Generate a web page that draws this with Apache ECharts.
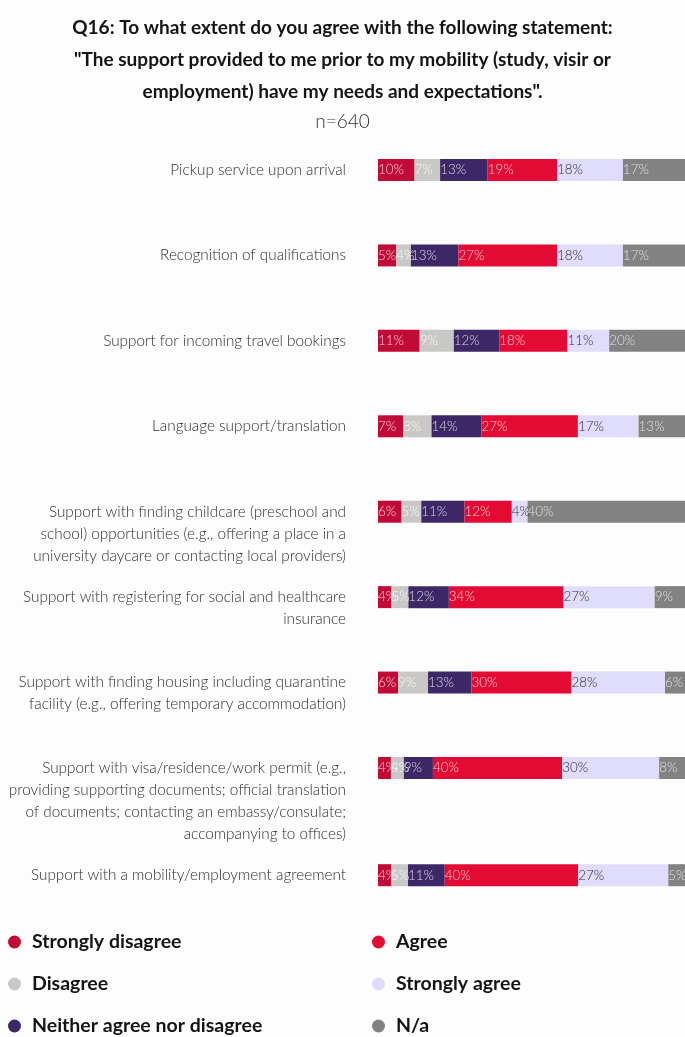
<!DOCTYPE html>
<html>
<head>
<meta charset="utf-8">
<script src="https://cdn.jsdelivr.net/npm/echarts@6/dist/echarts.min.js"></script>
<style>
  html, body { margin: 0; padding: 0; background: #fdfdfd; }
  #chart { width: 685px; height: 1037px; }
</style>
</head>
<body>
<div id="chart"></div>
<script>
// Survey items (line breaks as wrapped in the label column)
const categories = [
  'Pickup service upon arrival',
  'Recognition of qualifications',
  'Support for incoming travel bookings',
  'Language support/translation',
  'Support with finding childcare (preschool and\nschool) opportunities (e.g., offering a place in a\nuniversity daycare or contacting local providers)',
  'Support with registering for social and healthcare\ninsurance',
  'Support with finding housing including quarantine\nfacility (e.g., offering temporary accommodation)',
  'Support with visa/residence/work permit (e.g.,\nproviding supporting documents; official translation\nof documents; contacting an embassy/consulate;\naccompanying to offices)',
  'Support with a mobility/employment agreement'
];

// Percent of respondents per answer, one value per item above
const stronglyDisagree = [10, 5, 11, 7, 6, 4, 6, 4, 4];
const disagree         = [7, 4, 9, 8, 5, 5, 9, 4, 5];
const neither          = [13, 13, 12, 14, 11, 12, 13, 9, 11];
const agree            = [19, 27, 18, 27, 12, 34, 30, 40, 40];
const stronglyAgree    = [18, 18, 11, 17, 4, 27, 28, 30, 27];
const notApplicable    = [17, 17, 20, 13, 40, 9, 6, 8, 5];

const seriesNames = ['Strongly disagree', 'Disagree', 'Neither agree nor disagree', 'Agree', 'Strongly agree', 'N/a'];
const seriesValues = [stronglyDisagree, disagree, neither, agree, stronglyAgree, notApplicable];
const seriesColors = ['#c10a36', '#c9c8c6', '#3c2767', '#e30b34', '#e0dcfb', '#828282'];
const labelColors  = ['rgba(255,255,255,0.82)', 'rgba(255,255,255,0.9)', 'rgba(255,255,255,0.8)',
                      'rgba(255,255,255,0.8)', '#2c2a3a', 'rgba(255,255,255,0.75)'];

const titleLines = [
  'Q16: To what extent do you agree with the following statement:',
  '"The support provided to me prior to my mobility (study, visir or',
  'employment) have my needs and expectations".'
];
const subtitle = 'n=640';

// ---- pick the narrowest installed sans face and size text to the layout ----
const measureCtx = document.createElement('canvas').getContext('2d');
function textWidth(font, text) {
  measureCtx.font = font;
  return measureCtx.measureText(text).width;
}
function isInstalled(name) {
  const sample = 'abcdefghijklmnopqrstuvwxyz ABCDEFGHIJ 0123456789';
  return ['monospace', 'serif'].every(fb =>
    Math.abs(textWidth(`40px '${name}', ${fb}`, sample) - textWidth(`40px ${fb}`, sample)) > 0.5);
}
const fontCandidates = ['Liberation Sans Narrow', 'DejaVu Sans Condensed', 'Roboto', 'Lato',
                        'Liberation Sans', 'Open Sans', 'Noto Sans', 'Inter', 'DejaVu Sans'];
const probe = 'Pickup service upon arrival';
let FONT_NAME = 'sans-serif';
let best = Infinity;
fontCandidates.forEach(name => {
  if (!isInstalled(name)) return;
  const w = textWidth(`17px '${name}'`, probe);
  if (w < best) { best = w; FONT_NAME = name; }
});
const FONT = `'${FONT_NAME}', sans-serif`;

function fitSize(maxSize, weight, text, target) {
  const w = textWidth(`${weight} ${maxSize}px ${FONT}`, text);
  return Math.min(maxSize, Math.floor(maxSize * target / w * 10) / 10);
}
const labelSize  = fitSize(17, '300', 'Pickup service upon arrival', 176);
const titleSize  = fitSize(23, 'bold', titleLines[0], 541);
const legendSize = fitSize(22, 'bold', 'Strongly disagree', 150);
const valueSize  = fitSize(16, '300', '10%', 26);
const subSize    = fitSize(19, '300', subtitle, 58);

// each row is drawn as a share of its own total so every bar fills the full width
const rowTotals = categories.map((_, i) => seriesValues.reduce((s, arr) => s + arr[i], 0));

// first line of every label sits level with its bar, extra lines hang below
function labelFormatter(text) {
  const n = text.split('\n').length;
  return '\n'.repeat(n - 1) + text;
}

const topRows = categories.slice(0, 8);
const bottomRows = categories.slice(8);

function yAxisFor(gridIndex, data) {
  return {
    type: 'category',
    gridIndex: gridIndex,
    data: data,
    inverse: true,
    axisLine: { show: false },
    axisTick: { show: false },
    axisLabel: {
      interval: 0,
      hideOverlap: false,
      margin: 32,
      color: '#2e2e2e',
      fontFamily: FONT,
      fontWeight: 300,
      fontSize: labelSize,
      lineHeight: 22,
      align: 'right',
      verticalAlign: 'middle',
      formatter: labelFormatter
    }
  };
}

function xAxisFor(gridIndex) {
  return { type: 'value', gridIndex: gridIndex, min: 0, max: 100, show: false };
}

const series = [];
[[0, 0, 8], [1, 8, 9]].forEach(([g, from, to]) => {
  seriesNames.forEach((name, s) => {
    const data = [];
    for (let i = from; i < to; i++) {
      const raw = seriesValues[s][i];
      data.push({ value: raw / rowTotals[i] * 100, raw: raw });
    }
    series.push({
      name: name,
      type: 'bar',
      stack: 'row' + g,
      xAxisIndex: g,
      yAxisIndex: g,
      barWidth: 22,
      itemStyle: { color: seriesColors[s] },
      label: {
        show: true,
        position: 'insideLeft',
        distance: 0,
        color: labelColors[s],
        fontFamily: FONT,
        fontWeight: 300,
        fontSize: valueSize,
        formatter: p => p.data.raw + '%'
      },
      labelLayout: { hideOverlap: false },
      emphasis: { disabled: true },
      data: data
    });
  });
});

const legendCommon = {
  orient: 'vertical',
  icon: 'circle',
  itemWidth: 13,
  itemHeight: 13,
  itemGap: 20,
  padding: 0,
  selectedMode: false,
  textStyle: {
    fontFamily: FONT,
    fontSize: legendSize,
    fontWeight: 'bold',
    color: '#141414',
    lineHeight: 22,
    padding: [0, 0, 0, 6]
  }
};

const option = {
  backgroundColor: '#fdfdfd',
  animation: false,
  title: [
    {
      text: titleLines.join('\n'),
      left: 'center',
      top: 7,
      textStyle: {
        fontFamily: FONT,
        fontSize: titleSize,
        fontWeight: 'bold',
        color: '#141414',
        lineHeight: 32,
        align: 'center'
      }
    },
    {
      text: subtitle,
      left: 'center',
      top: 107,
      textStyle: {
        fontFamily: FONT,
        fontSize: subSize,
        fontWeight: 300,
        color: '#2e2e2e'
      }
    }
  ],
  legend: [
    Object.assign({}, legendCommon, { left: 8, top: 931, data: seriesNames.slice(0, 3) }),
    Object.assign({}, legendCommon, { left: 372, top: 931, data: seriesNames.slice(3) })
  ],
  grid: [
    { left: 378, right: 0, top: 127.3, height: 683.4, outerBoundsMode: 'none', containLabel: false },
    { left: 378, right: 0, top: 832.5, height: 85.4, outerBoundsMode: 'none', containLabel: false }
  ],
  xAxis: [xAxisFor(0), xAxisFor(1)],
  yAxis: [yAxisFor(0, topRows), yAxisFor(1, bottomRows)],
  series: series
};

const chart = echarts.init(document.getElementById('chart'), null, { renderer: 'canvas' });
chart.setOption(option);
</script>
</body>
</html>
